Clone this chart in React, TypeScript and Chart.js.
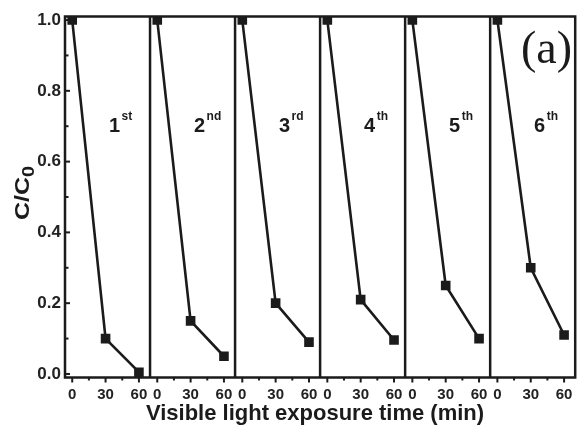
import React, { useEffect, useRef } from "react";
import { Chart, registerables } from "chart.js";

Chart.register(...registerables);

// ---- data ----
const times = [0, 30, 60];
const run1 = [1.0, 0.1, 0.005];
const run2 = [1.0, 0.15, 0.05];
const run3 = [1.0, 0.2, 0.09];
const run4 = [1.0, 0.21, 0.096];
const run5 = [1.0, 0.25, 0.1];
const run6 = [1.0, 0.3, 0.11];
const runs = [run1, run2, run3, run4, run5, run6];
const runNumbers = ["1", "2", "3", "4", "5", "6"];
const runSuffixes = ["st", "nd", "rd", "th", "th", "th"];
const xTickValues = [0, 15, 30, 45, 60];
const xTickLabels = ["0", "", "30", "", "60"];
const yTickValues = [0, 0.1, 0.2, 0.3, 0.4, 0.5, 0.6, 0.7, 0.8, 0.9, 1.0];
const yTickLabels = ["0.0", "", "0.2", "", "0.4", "", "0.6", "", "0.8", "", "1.0"];
const xTitle = "Visible light exposure time (min)";
const yTitleMain = "C/C";
const yTitleSub = "0";
const panelTag = "(a)";

// ---- layout constants ----
const X_MIN = -6.5;
const SPAN = 76.5;
const Y_MIN = -0.01;
const Y_MAX = 1.01;
const INK = "#1b1b1b";
const SANS = "'Liberation Sans', Arial, sans-serif";

const decorPlugin = {
  id: "decor",
  afterDatasetsDraw(chart: any) {
    const { ctx, chartArea } = chart;
    const xs = chart.scales.x;
    const ys = chart.scales.y;
    const { left, right, top, bottom } = chartArea;
    ctx.save();
    ctx.strokeStyle = INK;
    ctx.fillStyle = INK;
    ctx.lineWidth = 2.5;
    ctx.lineCap = "butt";
    // frame
    ctx.strokeRect(left, top, right - left, bottom - top);
    // dividers
    for (let i = 1; i < runs.length; i++) {
      const px = xs.getPixelForValue(X_MIN + i * SPAN);
      ctx.beginPath();
      ctx.moveTo(px, top);
      ctx.lineTo(px, bottom);
      ctx.stroke();
    }
    // x ticks (outward)
    ctx.lineWidth = 2;
    for (let i = 0; i < runs.length; i++) {
      xTickValues.forEach((t, k) => {
        const px = xs.getPixelForValue(t + i * SPAN);
        const len = xTickLabels[k] ? 5 : 3;
        ctx.beginPath();
        ctx.moveTo(px, bottom);
        ctx.lineTo(px, bottom + len);
        ctx.stroke();
      });
    }
    // y ticks (inward)
    yTickValues.forEach((v, k) => {
      const py = ys.getPixelForValue(v);
      const len = yTickLabels[k] ? 5 : 3.5;
      ctx.beginPath();
      ctx.moveTo(left, py);
      ctx.lineTo(left + len, py);
      ctx.stroke();
    });
    // panel labels
    for (let i = 0; i < runs.length; i++) {
      const px = xs.getPixelForValue(33 + i * SPAN);
      const py = ys.getPixelForValue(0.684);
      ctx.font = `bold 20px ${SANS}`;
      ctx.textAlign = "left";
      ctx.textBaseline = "alphabetic";
      ctx.fillText(runNumbers[i], px, py);
      const w = ctx.measureText(runNumbers[i]).width;
      ctx.font = `bold 12px ${SANS}`;
      ctx.fillText(runSuffixes[i], px + w + 1.5, py - 12);
    }
    // y title
    ctx.save();
    ctx.translate(29, (top + bottom) / 2 - 4);
    ctx.rotate(-Math.PI / 2);
    ctx.scale(1.25, 1);
    ctx.font = `bold 20px ${SANS}`;
    const mw = ctx.measureText(yTitleMain).width;
    ctx.font = `bold 16px ${SANS}`;
    const sw = ctx.measureText(yTitleSub).width;
    const total = mw + sw;
    ctx.font = `bold 20px ${SANS}`;
    ctx.textAlign = "left";
    ctx.fillText(yTitleMain, -total / 2, 0);
    ctx.font = `bold 16px ${SANS}`;
    ctx.fillText(yTitleSub, -total / 2 + mw, 5);
    ctx.restore();
    // x title
    ctx.font = `bold 22px ${SANS}`;
    ctx.textAlign = "center";
    ctx.fillText(xTitle, 315, 420);
    // tag
    ctx.font = `46px 'Liberation Serif', 'Times New Roman', serif`;
    ctx.textAlign = "left";
    ctx.fillText(panelTag, 521, 63);
    ctx.restore();
  },
};

export default function App() {
  const ref = useRef<HTMLCanvasElement | null>(null);
  useEffect(() => {
    if (!ref.current) return;
    const datasets = runs.map((r, i) => ({
      label: runNumbers[i] + runSuffixes[i],
      data: times.map((t, j) => ({ x: t + i * SPAN, y: r[j] })),
      showLine: true,
      borderColor: INK,
      backgroundColor: INK,
      borderWidth: 2.6,
      pointStyle: "rect",
      pointRadius: 6.8,
      pointBorderWidth: 0,
      pointBackgroundColor: INK,
    }));
    const chart = new Chart(ref.current, {
      type: "scatter",
      data: { datasets },
      options: {
        animation: false,
        responsive: false,
        events: [],
        layout: { padding: { top: 16.5, right: 2, left: 0, bottom: 0 } },
        plugins: { legend: { display: false }, tooltip: { enabled: false } },
        scales: {
          x: {
            type: "linear",
            min: X_MIN,
            max: X_MIN + runs.length * SPAN,
            afterBuildTicks: (s: any) => {
              const tk: any[] = [];
              for (let i = 0; i < runs.length; i++)
                xTickValues.forEach((t) => tk.push({ value: t + i * SPAN }));
              s.ticks = tk;
            },
            afterFit: (s: any) => {
              s.height = 425 - 377.5;
            },
            grid: { display: false, drawTicks: false },
            border: { display: false },
            ticks: {
              autoSkip: false,
              maxRotation: 0,
              padding: 8,
              color: "#222",
              font: { family: SANS, weight: "bold", size: 15 },
              callback: (v: any) => {
                const local = Math.round(((Number(v) - X_MIN) % SPAN) + X_MIN);
                const k = xTickValues.indexOf(local);
                return k >= 0 ? xTickLabels[k] : "";
              },
            },
          },
          y: {
            min: Y_MIN,
            max: Y_MAX,
            afterBuildTicks: (s: any) => {
              s.ticks = yTickValues.map((v) => ({ value: v }));
            },
            afterFit: (s: any) => {
              s.width = 65;
            },
            grid: { display: false, drawTicks: false },
            border: { display: false },
            ticks: {
              autoSkip: false,
              padding: 4,
              color: "#222",
              font: { family: SANS, weight: "bold", size: 17 },
              callback: (v: any) => {
                const k = yTickValues.findIndex((t) => Math.abs(t - Number(v)) < 1e-6);
                return k >= 0 ? yTickLabels[k] : "";
              },
            },
          },
        },
      },
      plugins: [decorPlugin],
    } as any);
    return () => chart.destroy();
  }, []);
  return (
    <div style={{ position: "fixed", left: 0, top: 0, width: 582, height: 425, background: "#fff" }}>
      <canvas ref={ref} width={582} height={425} style={{ width: 582, height: 425 }} />
    </div>
  );
}
